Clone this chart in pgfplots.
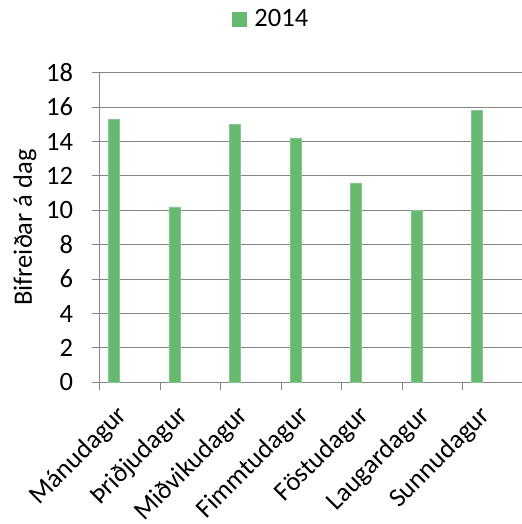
\documentclass[border=0pt]{standalone}
\usepackage{fontspec}
\setmainfont{Carlito}
\usepackage{pgfplots}
\pgfplotsset{compat=1.18}
\definecolor{barg}{RGB}{103,185,111}
\definecolor{gridg}{RGB}{134,134,134}
\newcommand{\cf}{\fontsize{26.5bp}{31bp}\selectfont}
\begin{document}
\cf
\begin{tikzpicture}
\useasboundingbox (-100bp,-141.7bp) rectangle (422bp,382.3bp);
\begin{axis}[
  at={(0,0)}, anchor=south west,
  scale only axis,
  width=423.5bp, height=309.6bp,
  xmin=-0.5, xmax=6.5,
  ymin=0, ymax=18,
  ytick={0,2,...,18},
  xtick={-0.5,0.5,...,6.5},
  x tick label as interval,
  xticklabels={Mánudagur,Þriðjudagur,Miðvikudagur,Fimmtudagur,Föstudagur,Laugardagur,Sunnudagur},
  axis lines*=left,
  axis line style={gridg, line width=1bp},
  tick style={gridg, line width=1bp},
  major tick length=8bp,
  tick align=outside,
  ymajorgrids,
  grid style={gridg, line width=1bp},
  /pgf/number format/assume math mode=true,
  tick label style={font=\cf, text=black},
  x tick label style={xshift=-15bp, yshift=-13bp, rotate=45, anchor=north east, inner sep=0pt},
  y tick label style={xshift=-10bp},
  ylabel={Bifreiðar á dag},
  ylabel style={font=\cf, at={(axis description cs:-0.177,0.5)}, anchor=center},
  legend style={at={(rel axis cs:0.404,1.17)}, anchor=center, draw=none, fill=none,
    font=\cf, inner sep=0pt},
  legend image code/.code={\fill[barg, draw=none] (0bp,-7.2bp) rectangle (14.8bp,7.6bp); \path[draw=none, fill=none] (0bp,0bp) -- (20.5bp,0bp);},
  clip=false,
]
\addplot[ybar, bar width=0.182, bar shift=-0.272, fill=barg, draw=barg!80!white, line width=0.5bp]
  coordinates {(0,15.3) (1,10.2) (2,15.0) (3,14.2) (4,11.6) (5,10.0) (6,15.8)};
\addlegendentry{2014}
\end{axis}
\end{tikzpicture}
\end{document}
